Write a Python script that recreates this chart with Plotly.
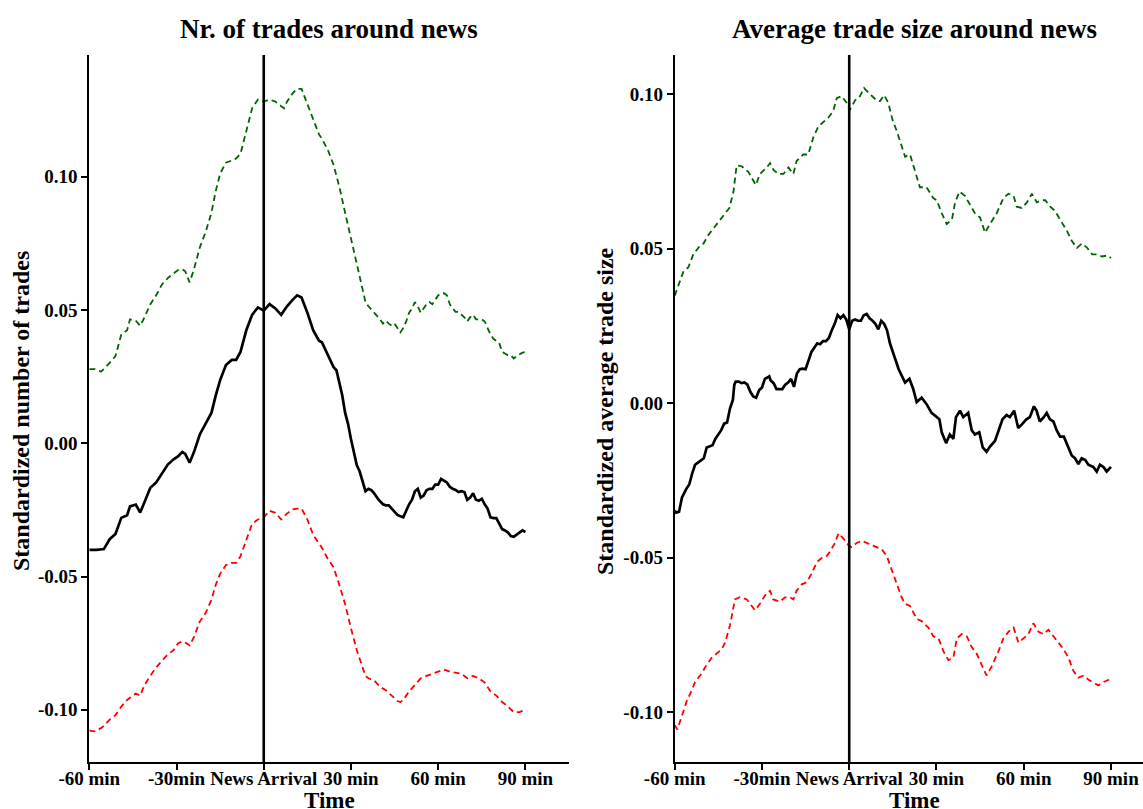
import plotly.graph_objects as go

# ---------------- data (minutes relative to news, standardized values) -------------
X_TICKS = [-60, -30, 0, 30, 60, 90]
X_TICKTEXT = ["-60 min", "-30min", "News Arrival", "30 min", "60 min", "90 min"]
Y_TICKS = [-0.10, -0.05, 0.00, 0.05, 0.10]
Y_TICKTEXT = ["-0.10", "-0.05", "0.00", "0.05", "0.10"]

TITLE_LEFT = "Nr. of trades around news"
TITLE_RIGHT = "Average trade size around news"
YLAB_LEFT = "Standardized number of trades"
YLAB_RIGHT = "Standardized average trade size"
XLAB = "Time"

# Left panel: number of trades
trades_mean = [
    (-60, -0.040), (-57.5, -0.040), (-55, -0.0397), (-53, -0.036), (-51, -0.034), (-49, -0.028),
    (-47, -0.027), (-46, -0.0237), (-44, -0.023), (-42.5, -0.026), (-41, -0.022), (-39, -0.0167),
    (-37, -0.0147), (-35, -0.0114), (-33, -0.008), (-31, -0.006), (-29.5, -0.0049), (-28, -0.0033),
    (-27, -0.004), (-25.5, -0.0073), (-24, -0.0033), (-22, 0.0033), (-20, 0.0073), (-18, 0.0114),
    (-16.5, 0.018), (-15, 0.0237), (-13, 0.0294), (-11, 0.0313), (-9.5, 0.0313), (-8, 0.0343),
    (-6, 0.0424), (-4, 0.0482), (-2, 0.051), (0, 0.0498), (2, 0.0522), (4, 0.0506), (6, 0.0482),
    (8, 0.0514), (10, 0.0539), (11.5, 0.0555), (13, 0.0547), (15, 0.049), (17, 0.0424), (19, 0.0385),
    (20, 0.0379), (22, 0.0335), (24, 0.0286), (25, 0.0274), (26, 0.0229), (27, 0.018), (28, 0.0114),
    (29, 0.0073), (30, 0.0016), (31, -0.0033), (32, -0.0082), (33, -0.0106), (34, -0.0139),
    (35, -0.018), (36, -0.0171), (37, -0.0176), (38, -0.0188), (39.5, -0.0212), (41, -0.0229),
    (42, -0.0233), (43, -0.0233), (44, -0.0245), (45, -0.0261), (46, -0.0269), (47, -0.0274),
    (48, -0.0278), (49, -0.0253), (50, -0.0229), (51, -0.0212), (52, -0.018), (53, -0.0171),
    (54, -0.0204), (55, -0.0196), (56, -0.0176), (57, -0.0171), (58, -0.0171), (59, -0.0155),
    (60, -0.0155), (61, -0.0134), (62, -0.0139), (63, -0.0147), (64, -0.0163), (65, -0.0171),
    (66, -0.0175), (67, -0.0183), (68, -0.018), (69, -0.0183), (70, -0.0212), (71, -0.0204),
    (72, -0.0188), (73, -0.0212), (74, -0.0216), (75, -0.0208), (76, -0.0229), (77, -0.0245),
    (78, -0.0278), (79, -0.0281), (80, -0.0281), (81, -0.0302), (82, -0.0322), (83, -0.0327),
    (84, -0.0335), (85, -0.0348), (86, -0.0351), (87, -0.0343), (88, -0.0335), (89, -0.0327),
    (90, -0.0333),
]
trades_upper = [
    (-60, 0.0278), (-58, 0.0278), (-56, 0.0269), (-55, 0.0278), (-53, 0.0302), (-51, 0.0327),
    (-49, 0.0408), (-47, 0.0424), (-46, 0.0465), (-44, 0.046), (-42.5, 0.0441), (-41, 0.0473),
    (-39, 0.0522), (-37, 0.0555), (-35, 0.0596), (-33, 0.062), (-31, 0.0637), (-29.5, 0.065),
    (-28, 0.0653), (-27, 0.0645), (-25.5, 0.0604), (-24, 0.0653), (-22, 0.0735), (-20, 0.0792),
    (-18, 0.0865), (-16.5, 0.0947), (-15, 0.1012), (-13, 0.1053), (-11, 0.1061), (-9.5, 0.1069),
    (-8, 0.1086), (-6, 0.1176), (-4, 0.1257), (-2, 0.129), (0, 0.1282), (2, 0.129), (4, 0.1282),
    (6, 0.1265), (7, 0.1257), (8, 0.1282), (10, 0.1314), (11.5, 0.133), (13, 0.133), (15, 0.1273),
    (17, 0.1216), (19, 0.1159), (20, 0.1143), (22, 0.1102), (24, 0.1045), (26, 0.0963), (28, 0.0865),
    (30, 0.0767), (32, 0.0669), (34, 0.0571), (35, 0.053), (36, 0.0514), (38, 0.049), (40, 0.0465),
    (41, 0.0449), (42, 0.046), (43, 0.0449), (44, 0.0441), (45, 0.0449), (46, 0.0433), (47, 0.0416),
    (48, 0.0433), (49, 0.0457), (50, 0.049), (51, 0.0506), (52, 0.053), (53, 0.0514), (54, 0.049),
    (55, 0.0506), (56, 0.0522), (57, 0.053), (58, 0.0522), (59, 0.0539), (60, 0.0555), (61, 0.0563),
    (62, 0.0563), (63, 0.0555), (64, 0.0522), (65, 0.0506), (66, 0.0493), (67, 0.0493), (68, 0.0482),
    (69, 0.0473), (70, 0.0457), (71, 0.0473), (72, 0.0482), (73, 0.0465), (74, 0.0465), (75, 0.0465),
    (76, 0.0457), (77, 0.0433), (78, 0.0408), (79, 0.0392), (80, 0.0384), (81, 0.0376), (82, 0.0343),
    (83, 0.0335), (84, 0.033), (85, 0.033), (86, 0.0318), (87, 0.0327), (88, 0.0335), (89, 0.034),
    (90, 0.0343),
]
trades_lower = [
    (-60, -0.1078), (-58, -0.1081), (-56, -0.1069), (-55, -0.1061), (-53, -0.1037), (-51, -0.102),
    (-49, -0.0988), (-47, -0.0963), (-46, -0.0955), (-44, -0.0939), (-42.5, -0.0947), (-41, -0.0906),
    (-39, -0.0873), (-37, -0.0841), (-35, -0.0816), (-33, -0.0792), (-31, -0.0776), (-29.5, -0.0751),
    (-28, -0.0743), (-27, -0.0748), (-25.5, -0.0759), (-24, -0.0727), (-22, -0.0669), (-20, -0.0637),
    (-18, -0.0588), (-16.5, -0.0531), (-15, -0.049), (-13, -0.0457), (-11, -0.0449), (-9.5, -0.0449),
    (-8, -0.0424), (-6, -0.0359), (-4, -0.0302), (-2, -0.0286), (0, -0.0278), (2, -0.0253),
    (4, -0.0261), (6, -0.0286), (8, -0.0264), (10, -0.0248), (11.5, -0.0245), (13, -0.0245),
    (15, -0.0286), (17, -0.0343), (19, -0.0375), (20, -0.0392), (22, -0.0433), (24, -0.0465),
    (26, -0.0531), (28, -0.0604), (30, -0.0694), (32, -0.0776), (34, -0.0841), (35, -0.0873),
    (36, -0.0882), (38, -0.089), (40, -0.0914), (42, -0.0927), (44, -0.0947), (46, -0.0967),
    (47, -0.0971), (48, -0.0963), (50, -0.0931), (52, -0.0906), (54, -0.0882), (56, -0.0873),
    (58, -0.0865), (60, -0.0857), (62, -0.0849), (64, -0.0857), (66, -0.0862), (68, -0.0865),
    (70, -0.0882), (72, -0.0873), (74, -0.0882), (76, -0.0898), (78, -0.0931), (80, -0.0947),
    (82, -0.0971), (84, -0.0988), (86, -0.1009), (88, -0.1009), (90, -0.0999),
]

# Right panel: average trade size
size_mean = [
    (-60, -0.0347), (-59.5, -0.0354), (-58.5, -0.0351), (-57.5, -0.0305), (-56, -0.0277), (-55, -0.0263),
    (-54, -0.0228), (-53, -0.0199), (-52, -0.0192), (-51, -0.0185), (-50, -0.0178), (-49, -0.0143),
    (-48, -0.014), (-47, -0.0136), (-46, -0.0115), (-45, -0.0101), (-44, -0.0087), (-43, -0.0066),
    (-42, -0.0062), (-41, -0.0017), (-40, 0.0011), (-39.5, 0.006), (-39, 0.007), (-38, 0.007),
    (-37, 0.0065), (-36, 0.0067), (-35, 0.006), (-34, 0.0037), (-33, 0.0022), (-32, 0.0018),
    (-31, 0.0042), (-30, 0.0051), (-29, 0.0079), (-28, 0.0084), (-27.5, 0.0087), (-27, 0.0074),
    (-26, 0.0065), (-25, 0.0046), (-24, 0.0046), (-23, 0.0046), (-22, 0.006), (-21, 0.0067),
    (-20, 0.0079), (-19, 0.0053), (-18, 0.0096), (-17, 0.011), (-16, 0.0112), (-15, 0.011),
    (-14, 0.0138), (-13, 0.0166), (-12, 0.018), (-11, 0.0194), (-10, 0.0191), (-9, 0.0201),
    (-8, 0.0201), (-7, 0.0211), (-6, 0.0236), (-5, 0.0257), (-4, 0.0285), (-3, 0.0275),
    (-2, 0.0285), (-1, 0.0271), (0, 0.0239), (0.5, 0.025), (1, 0.0267), (2, 0.0271), (3, 0.0267),
    (4, 0.0267), (5, 0.0285), (6, 0.0289), (7, 0.0275), (8, 0.0267), (9, 0.0257), (10, 0.0239),
    (11, 0.0267), (12, 0.0257), (13, 0.0236), (14, 0.0194), (15, 0.0166), (16, 0.0145), (17, 0.011),
    (19.2, 0.0067), (20.7, 0.0079), (22.0, 0.0046), (23.2, 0.0004), (24.9, 0.0018), (26.6, -0.0003),
    (28.3, -0.0031), (30.1, -0.0045), (31.0, -0.0052), (31.8, -0.0094), (33.3, -0.0129), (34.6, -0.0101),
    (35.8, -0.0115), (36.7, -0.0045), (38.1, -0.0024), (39.2, -0.0045), (40.9, -0.0031), (42.1, -0.0087),
    (43.2, -0.0101), (44.7, -0.0094), (45.9, -0.0143), (47.2, -0.0157), (48.4, -0.014), (50.1, -0.0122),
    (51.3, -0.0087), (52.7, -0.0052), (54.1, -0.0038), (55.2, -0.0045), (56.7, -0.0024), (58.1, -0.008),
    (59.6, -0.0066), (60.9, -0.0052), (62.1, -0.0045), (63.5, -0.001), (64.4, -0.0024), (65.5, -0.0059),
    (66.9, -0.0045), (67.9, -0.0031), (69.0, -0.0052), (70.2, -0.0059), (71.3, -0.0087), (72.5, -0.0108),
    (73.8, -0.0108), (75.4, -0.0143), (76.5, -0.0169), (77.6, -0.0178), (78.8, -0.0197), (79.9, -0.0178),
    (81.1, -0.0183), (82.2, -0.0199), (83.9, -0.0206), (85.1, -0.0221), (86.2, -0.0199), (87.4, -0.0206),
    (88.5, -0.0221), (90.0, -0.0206),
]
size_upper = [
    (-60, 0.0348), (-58.7, 0.0383), (-57, 0.0426), (-55.3, 0.044), (-53.6, 0.0482), (-51.3, 0.051),
    (-50.1, 0.0517), (-48.4, 0.0545), (-46.1, 0.0573), (-44.4, 0.0594), (-42.1, 0.0622), (-41.2, 0.0632),
    (-39.8, 0.0685), (-38.7, 0.077), (-37, 0.0767), (-34.7, 0.0749), (-32.1, 0.0706), (-30.7, 0.0742),
    (-28.4, 0.0763), (-27.2, 0.0777), (-26.1, 0.0756), (-24.4, 0.0742), (-22.6, 0.0742), (-20.9, 0.0763),
    (-19.2, 0.0742), (-18.1, 0.0784), (-15.8, 0.0805), (-14.1, 0.0805), (-12.3, 0.0861), (-10.6, 0.0896),
    (-8.9, 0.091), (-7.2, 0.0924), (-5.5, 0.0945), (-4.3, 0.0987), (-2.6, 0.0994), (-0.9, 0.0973),
    (0.2, 0.0949), (2, 0.098), (3.7, 0.0994), (5.1, 0.102), (7.1, 0.1001), (9.4, 0.098), (10.6, 0.0978),
    (12, 0.0997), (13.4, 0.0973), (14.9, 0.0917), (16.3, 0.0882), (17.45, 0.0847), (19.2, 0.0798),
    (20.9, 0.0805), (22.6, 0.0749), (24.3, 0.0699), (26.6, 0.0699), (28.9, 0.0664), (30.1, 0.0657),
    (31.8, 0.0615), (33.5, 0.058), (35.3, 0.0594), (36.4, 0.065), (37.9, 0.0685), (39.8, 0.0671),
    (41.5, 0.0643), (43.2, 0.0615), (45, 0.0601), (46.7, 0.0552), (48.4, 0.058), (50.7, 0.0615),
    (53, 0.0664), (54.7, 0.0678), (56.5, 0.0671), (57.6, 0.0636), (59.3, 0.0632), (61.1, 0.065),
    (62.8, 0.0678), (64.5, 0.065), (66.2, 0.0657), (67.4, 0.0657), (69.1, 0.0636), (70.8, 0.0622),
    (72.5, 0.0594), (74.8, 0.0559), (76.6, 0.0524), (78.3, 0.0503), (80, 0.0517), (81.8, 0.0503),
    (83.5, 0.0482), (85.2, 0.0482), (86.9, 0.0475), (88.7, 0.0478), (90, 0.047),
]
size_lower = [
    (-60, -0.1042), (-59.1, -0.1056), (-57.6, -0.1014), (-55.9, -0.0965), (-54.2, -0.093), (-53, -0.0902),
    (-50.7, -0.0874), (-49, -0.0846), (-47.3, -0.0824), (-45.6, -0.081), (-43.8, -0.0796), (-42.7, -0.0775),
    (-41, -0.0719), (-39.3, -0.0635), (-37.5, -0.0627), (-35.2, -0.0635), (-32.4, -0.067), (-30.7, -0.0649),
    (-28.4, -0.0614), (-27.2, -0.0607), (-26.1, -0.0635), (-23.8, -0.0642), (-22.1, -0.0628), (-20.4, -0.0628),
    (-19.2, -0.0635), (-18.1, -0.0607), (-16.3, -0.0586), (-14.6, -0.0579), (-12.9, -0.0551), (-11.2, -0.0515),
    (-9.5, -0.0501), (-7.7, -0.0494), (-6.6, -0.048), (-4.9, -0.0452), (-3.7, -0.0421), (-2, -0.0438),
    (-0.3, -0.0459), (0.8, -0.0466), (2.6, -0.0452), (4.3, -0.0445), (6, -0.0452), (7.7, -0.0459),
    (9.4, -0.0466), (11.2, -0.0473), (12.9, -0.0494), (14.6, -0.0537), (16.3, -0.0579), (18, -0.0628),
    (19.2, -0.0649), (20.9, -0.0656), (23.2, -0.0698), (24.9, -0.0705), (27.2, -0.0726), (28.9, -0.0754),
    (30.7, -0.0761), (32.4, -0.0803), (34.1, -0.0831), (35.8, -0.0824), (37, -0.0761), (38.7, -0.0747),
    (40.4, -0.0754), (42.1, -0.0789), (43.8, -0.081), (45.5, -0.0846), (47.2, -0.0881), (48.9, -0.0853),
    (51.3, -0.0803), (53, -0.0761), (54.7, -0.074), (56.5, -0.0726), (58.2, -0.0775), (59.9, -0.0761),
    (61.6, -0.0747), (63.3, -0.0712), (65.1, -0.074), (66.8, -0.0747), (68.5, -0.0733), (70.2, -0.0754),
    (71.9, -0.0775), (73.7, -0.0796), (75.4, -0.0824), (77.1, -0.0867), (78.8, -0.0888), (80.6, -0.0881),
    (82.3, -0.0895), (84, -0.0904), (85.7, -0.0913), (87.5, -0.0902), (89.2, -0.0895), (90.1, -0.0888),
]

# ---------------- figure -------------
W, H = 1143, 809
FONT = "Liberation Serif"


def px_x(p):
    return p / W


def px_y(p):
    return 1 - p / H


fig = go.Figure()


def add_line(pairs, xa, ya, color, dash, width):
    fig.add_trace(go.Scatter(
        x=[p[0] for p in pairs], y=[p[1] for p in pairs],
        mode="lines", xaxis=xa, yaxis=ya,
        line=dict(color=color, dash=dash, width=width),
        showlegend=False, hoverinfo="skip",
    ))


GREEN = "#006400"
RED = "#FF0000"
DASH = "6px,4px"

add_line(trades_upper, "x", "y", GREEN, DASH, 1.8)
add_line(trades_lower, "x", "y", RED, DASH, 1.8)
add_line(trades_mean, "x", "y", "black", "solid", 2.7)
add_line(size_upper, "x2", "y2", GREEN, DASH, 1.8)
add_line(size_lower, "x2", "y2", RED, DASH, 1.8)
add_line(size_mean, "x2", "y2", "black", "solid", 2.7)

top_px, bot_px = 55, 762
ydom = [px_y(bot_px), px_y(top_px)]

axis_common = dict(
    showgrid=False, zeroline=False, showline=True, linecolor="black", linewidth=2,
    ticks="outside", ticklen=6, tickwidth=1.5, tickcolor="black", automargin=False,
    tickfont=dict(family=FONT, size=19, color="black", weight="bold"),
)

fig.update_layout(
    width=W, height=H,
    margin=dict(l=0, r=0, t=0, b=0, autoexpand=False),
    paper_bgcolor="white", plot_bgcolor="white",
    font=dict(family=FONT, color="black"),
    xaxis=dict(domain=[px_x(89.3), px_x(569)], range=[-60, 105], anchor="y",
               tickvals=X_TICKS, ticktext=X_TICKTEXT, ticklabelstandoff=-8, **axis_common),
    yaxis=dict(domain=ydom, range=[-0.1196, 0.1457], anchor="x",
               tickvals=Y_TICKS, ticktext=Y_TICKTEXT, **axis_common),
    xaxis2=dict(domain=[px_x(674.7), 1.0], range=[-60, 101], anchor="y2",
                tickvals=X_TICKS, ticktext=X_TICKTEXT, ticklabelstandoff=-8, **axis_common),
    yaxis2=dict(domain=ydom, range=[-0.1161, 0.1127], anchor="x2",
                tickvals=Y_TICKS, ticktext=Y_TICKTEXT, **axis_common),
)

# vertical news-arrival lines
for xr, yr in (("x", "y domain"), ("x2", "y2 domain")):
    fig.add_shape(type="line", xref=xr, yref=yr, x0=0, x1=0, y0=0, y1=1,
                  line=dict(color="black", width=2.6))

title_font = dict(family=FONT, size=27, color="black", weight="bold")
lab_font = dict(family=FONT, size=23, color="black", weight="bold")
ylab_font = dict(family=FONT, size=24, color="black", weight="bold")

ann = [
    dict(text=TITLE_LEFT, x=px_x(329), y=px_y(29), font=title_font),
    dict(text=TITLE_RIGHT, x=px_x(914), y=px_y(29), font=title_font),
    dict(text=XLAB, x=px_x(329), y=px_y(800), font=lab_font),
    dict(text=XLAB, x=px_x(915), y=px_y(800), font=lab_font),
    dict(text=YLAB_LEFT, x=px_x(21), y=px_y(411), font=ylab_font, textangle=-90),
    dict(text=YLAB_RIGHT, x=px_x(605), y=px_y(411), font=ylab_font, textangle=-90),
]
for a in ann:
    fig.add_annotation(xref="paper", yref="paper", showarrow=False,
                       xanchor="center", yanchor="middle", **a)

fig.write_html("out.html")
